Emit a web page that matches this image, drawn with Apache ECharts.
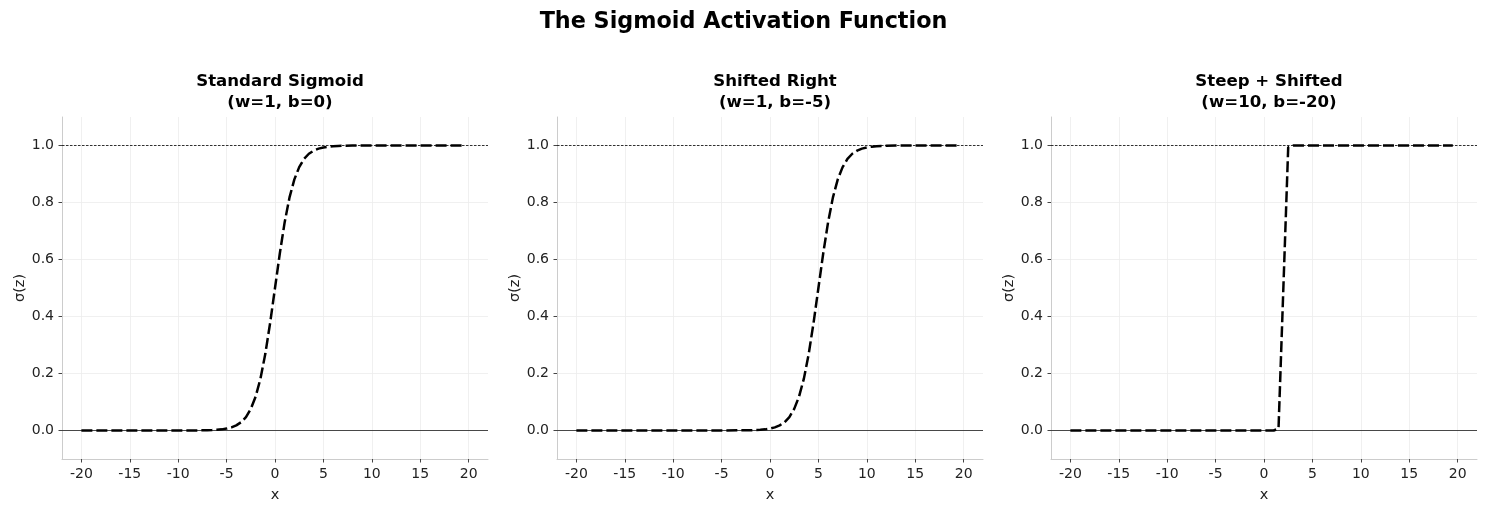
<!DOCTYPE html>
<html>
<head>
<meta charset="utf-8">
<script src="https://cdn.jsdelivr.net/npm/echarts@6/dist/echarts.min.js"></script>
<style>
  html, body { margin: 0; padding: 0; background: #fff; }
  #chart { width: 1487px; height: 513px; }
</style>
</head>
<body>
<div id="chart"></div>
<script>
// values
var x_std = [-20, -15, -10, -8, -7, -6.5, -6, -5.5, -5, -4.5, -4, -3.5, -3, -2.5, -2, -1.5, -1, -0.5, 0,
             0.5, 1, 1.5, 2, 2.5, 3, 3.5, 4, 4.5, 5, 5.5, 6, 6.5, 7, 8, 10, 15, 19.5];
var y_std = [0, 0, 0, 0.0003, 0.0009, 0.0015, 0.0025, 0.004, 0.0067, 0.011, 0.018, 0.029, 0.047, 0.076, 0.119, 0.182, 0.269, 0.378, 0.5,
             0.622, 0.731, 0.818, 0.881, 0.924, 0.953, 0.971, 0.982, 0.989, 0.993, 0.996, 0.9975, 0.9985, 0.9991, 0.9997, 1, 1, 1];

var x_shift = [-20, -10, -5, -2, -1, -0.5, 0, 0.5, 1, 1.5, 2, 2.5, 3, 3.5, 4, 4.5, 5, 5.5, 6, 6.5, 7, 7.5, 8, 8.5, 9, 9.5,
               10, 10.5, 11, 11.5, 12, 13, 15, 19.5];
var y_shift = [0, 0, 0, 0.0009, 0.0025, 0.004, 0.0067, 0.011, 0.018, 0.029, 0.047, 0.076, 0.119, 0.182, 0.269, 0.378, 0.5, 0.622, 0.731, 0.818, 0.881, 0.924, 0.953, 0.971, 0.982, 0.989,
               0.993, 0.996, 0.9975, 0.9985, 0.9991, 0.9997, 1, 1];

var x_steep = [-20, -10, 0, 1, 1.5, 2, 2.5, 3, 10, 19.5];
var y_steep = [0, 0, 0, 0, 0.0067, 0.5, 0.9933, 1, 1, 1];

var titles = ['Standard Sigmoid\n(w=1, b=0)', 'Shifted Right\n(w=1, b=-5)', 'Steep + Shifted\n(w=10, b=-20)'];
var x_ticks = [-20, -15, -10, -5, 0, 5, 10, 15, 20];
var y_ticks = [0, 0.2, 0.4, 0.6, 0.8, 1.0];

var xs = [x_std, x_shift, x_steep];
var ys = [y_std, y_shift, y_steep];
var lefts = [62, 557, 1051];
var plotW = 426, plotTop = 117, plotH = 342;
var font = 'DejaVu Sans';

function pairs(a, b) {
    return a.map(function (v, i) { return [v, b[i]] })
}

var grids = [], xAxes = [], yAxes = [], series = [];
var titleList = [{
    text: 'The Sigmoid Activation Function',
    left: 'center', top: 6,
    textStyle: { fontFamily: font, fontSize: 22.3, fontWeight: 'bold', color: '#000' }
}];

for (var i = 0; i < 3; i++) {
    grids.push({ left: lefts[i], top: plotTop, width: plotW, height: plotH });
    titleList.push({
        text: titles[i],
        left: lefts[i] + plotW / 2, top: 66, textAlign: 'center',
        textStyle: { fontFamily: font, fontSize: 16.6, fontWeight: 'bold', color: '#000', lineHeight: 21 }
    });
    xAxes.push({
        gridIndex: i, type: 'value', min: -22, max: 22,
        name: 'x', nameLocation: 'middle', nameGap: 29,
        nameTextStyle: { fontFamily: font, fontSize: 14.5, color: '#222' },
        axisLine: { onZero: false, lineStyle: { color: '#cccccc', width: 1 } },
        axisTick: { customValues: x_ticks, length: 3.5, lineStyle: { color: '#444', width: 1 } },
        axisLabel: { customValues: x_ticks, margin: 8, fontFamily: font, fontSize: 14, color: '#222' },
        splitLine: { show: true, lineStyle: { color: '#ececec', width: 0.8 } }
    });
    yAxes.push({
        gridIndex: i, type: 'value', min: -0.1, max: 1.1,
        name: 'σ(z)', nameLocation: 'middle', nameGap: 22, nameRotate: 90,
        nameTextStyle: { fontFamily: font, fontSize: 14.5, color: '#222' },
        axisLine: { show: true, onZero: false, lineStyle: { color: '#cccccc', width: 1 } },
        axisTick: { show: true, customValues: y_ticks, length: 3.5, lineStyle: { color: '#444', width: 1 } },
        axisLabel: {
            customValues: y_ticks, margin: 8, fontFamily: font, fontSize: 14, color: '#222',
            formatter: function (v) { return v.toFixed(1) }
        },
        splitLine: { show: true, lineStyle: { color: '#ececec', width: 0.8 } }
    });
    series.push({
        type: 'line', xAxisIndex: i, yAxisIndex: i,
        data: pairs(xs[i], ys[i]),
        showSymbol: false, silent: true, z: 5,
        lineStyle: { color: '#000', width: 2.5, type: [11, 4] },
        markLine: {
            silent: true, symbol: 'none', label: { show: false }, animation: false,
            data: [
                { yAxis: 0, lineStyle: { color: '#333', width: 0.9, type: 'solid' } },
                { yAxis: 1, lineStyle: { color: '#000', width: 0.8, type: [2.5, 1.5] } }
            ]
        }
    });
}

var chart = echarts.init(document.getElementById('chart'));
chart.setOption({
    animation: false,
    backgroundColor: '#fff',
    title: titleList,
    grid: grids,
    xAxis: xAxes,
    yAxis: yAxes,
    series: series
});
</script>
</body>
</html>
